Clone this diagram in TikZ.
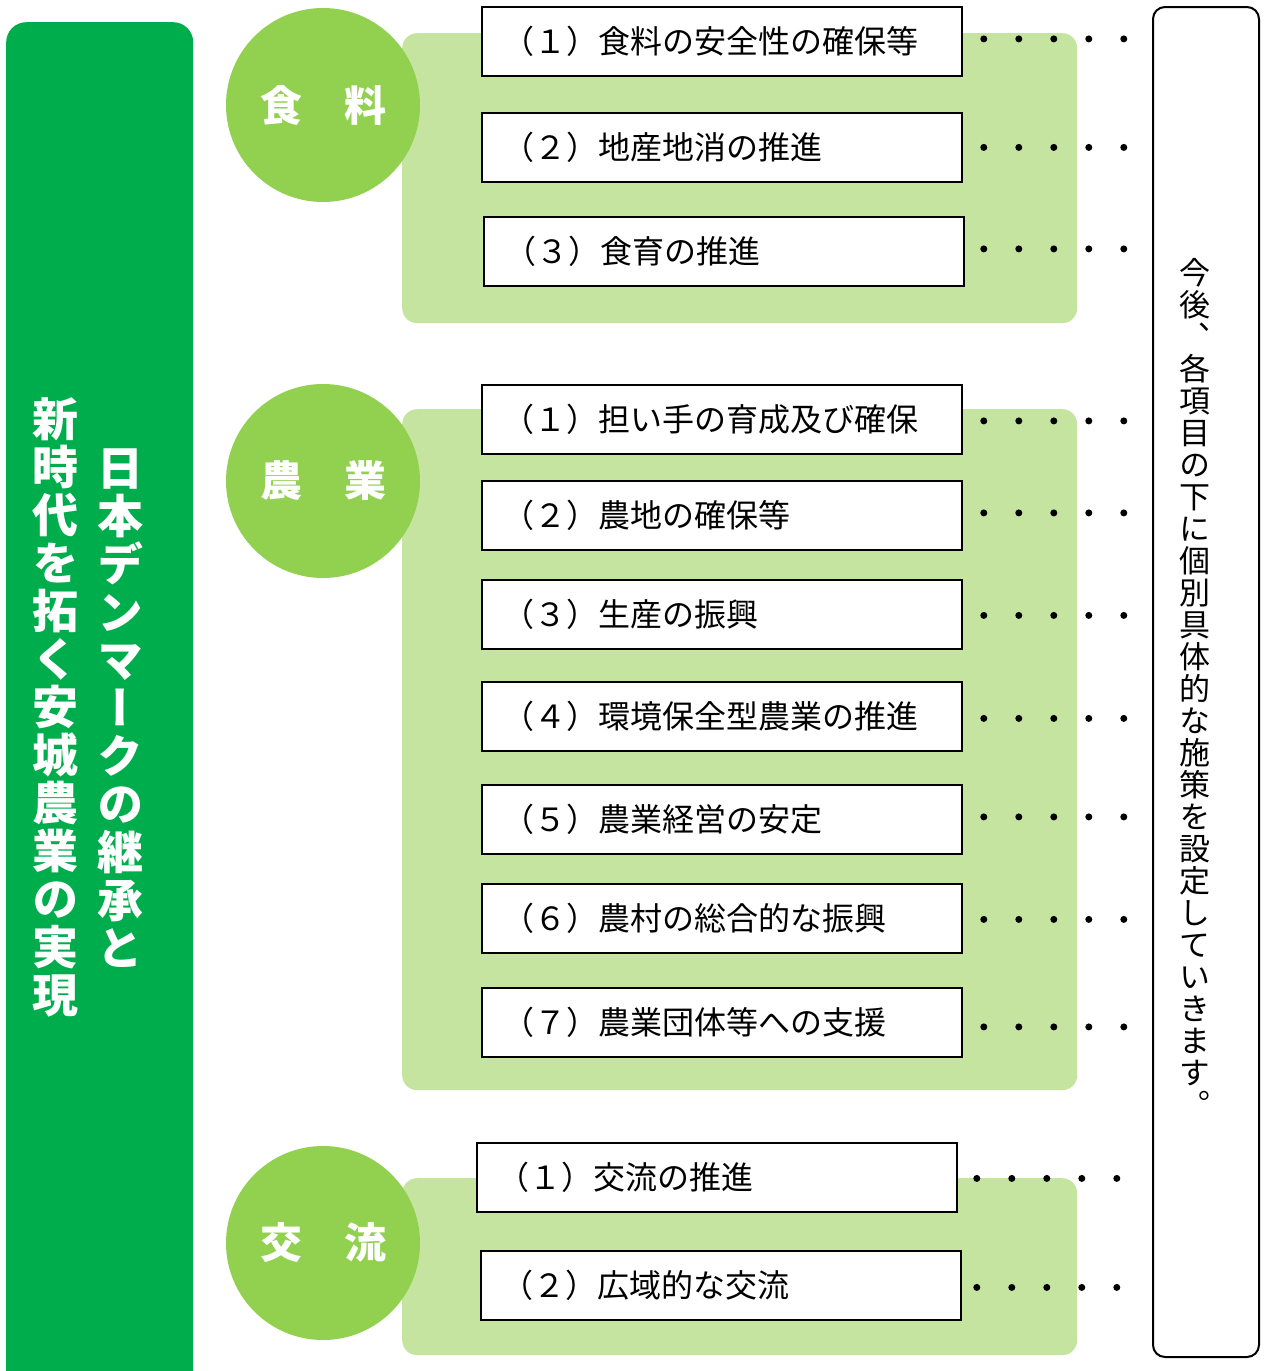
\documentclass[tikz,border=0pt]{standalone}
\usepackage{fontspec}
\setmainfont{Noto Sans CJK JP}
\newfontfamily\jpv[RawFeature=+vert]{Noto Sans CJK JP}
\definecolor{dkgreen}{RGB}{0,173,77}
\definecolor{circgreen}{RGB}{146,208,80}
\definecolor{panelgreen}{RGB}{197,228,159}
\begin{document}
\begin{tikzpicture}[x=1pt,y=-1pt,
  titlebar/.style={fill=dkgreen, rounded corners=20pt, inner sep=0pt, anchor=north west},
  titletext/.style={text=white, align=center, inner sep=0pt, font=\jpv\bfseries\fontsize{46}{48}\selectfont},
  panel/.style={fill=panelgreen, rounded corners=15pt, inner sep=0pt, anchor=north west, minimum width=675pt},
  circ/.style={circle, fill=circgreen, minimum size=194pt, inner sep=0pt, text=white, font=\bfseries\fontsize{42}{48}\selectfont},
  itembox/.style={draw=black, line width=1.8pt, fill=white, anchor=north west, inner xsep=21pt, inner ysep=0pt,
     text width=438pt, align=left, minimum height=69pt, font=\fontsize{32}{38}\selectfont},
  dotrow/.style={line width=7pt, line cap=round, dash pattern=on 0pt off 35pt},
  notebox/.style={draw=black, line width=2pt, rounded corners=12pt, anchor=north west, inner sep=0pt},
  notetext/.style={align=center, inner sep=0pt, font=\jpv\fontsize{31}{32}\selectfont}
]
\useasboundingbox (0,0) rectangle (1264,1371);
\clip (0,0) rectangle (1264,1371);

% title bar
\node[titlebar, minimum width=187pt, minimum height=1420pt] (title) at (6,22) {};
\node[titletext] (tright) at (120,708) {日\\本\\デ\\ン\\マ\\ー\\ク\\の\\継\\承\\と};
\node[titletext] (tleft) at (55,707) {新\\時\\代\\を\\拓\\く\\安\\城\\農\\業\\の\\実\\現};

% panels
\node[panel, minimum height=290pt] (p1) at (402,33) {};
\node[panel, minimum height=681pt] (p2) at (402,409) {};
\node[panel, minimum height=177pt] (p3) at (402,1178) {};

% circles
\node[circ] (c1) at (323,105) {食　料};
\node[circ] (c2) at (323,481) {農　業};
\node[circ] (c3) at (323,1243) {交　流};

% section 1
\node[itembox] (b11) at (481,6) {（１）食料の安全性の確保等};
\node[itembox] (b12) at (481,112) {（２）地産地消の推進};
\node[itembox] (b13) at (483,216) {（３）食育の推進};
% section 2
\node[itembox] (b21) at (481,384) {（１）担い手の育成及び確保};
\node[itembox] (b22) at (481,480) {（２）農地の確保等};
\node[itembox] (b23) at (481,579) {（３）生産の振興};
\node[itembox] (b24) at (481,681) {（４）環境保全型農業の推進};
\node[itembox] (b25) at (481,784) {（５）農業経営の安定};
\node[itembox] (b26) at (481,883) {（６）農村の総合的な振興};
\node[itembox] (b27) at (481,987) {（７）農業団体等への支援};
% section 3
\node[itembox] (b31) at (476,1142) {（１）交流の推進};
\node[itembox] (b32) at (480,1250) {（２）広域的な交流};

% note box
\node[notebox, minimum width=106pt, minimum height=1350pt] (note) at (1152,6) {};
\node[notetext] (notet) at (1195,687) {今\\後\\、\\各\\項\\目\\の\\下\\に\\個\\別\\具\\体\\的\\な\\施\\策\\を\\設\\定\\し\\て\\い\\き\\ま\\す\\。};

% dotted leaders
\foreach \b/\dx/\dy in {b11/21/2.5, b12/21/0, b13/19/2.5, b21/21/-1.5, b22/21/2.5, b23/21/-1, b24/21/-2, b25/21/2.5, b26/21/-1, b27/21/-4.5, b31/19/-1, b32/15/-2}
  \draw[dotrow] ([xshift=\dx pt, yshift=\dy pt]\b.east) -- ++(141,0);
\end{tikzpicture}
\end{document}
